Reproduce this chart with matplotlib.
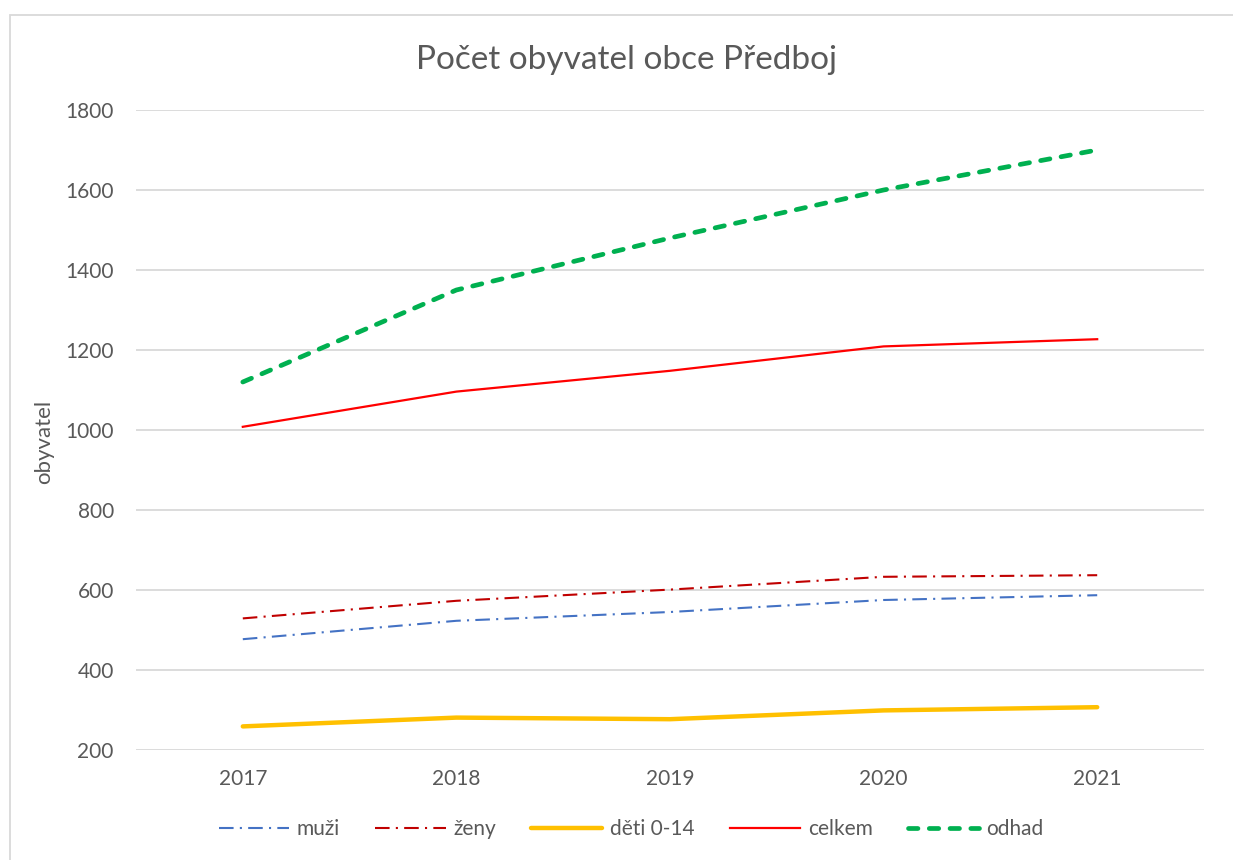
import matplotlib.pyplot as plt
from matplotlib.patches import Rectangle

roky = ["2017", "2018", "2019", "2020", "2021"]
muzi = [477, 523, 545, 575, 587]
zeny = [529, 573, 601, 633, 637]
deti = [259, 281, 277, 299, 307]
celkem = [1008, 1096, 1148, 1209, 1227]
odhad = [1120, 1350, 1480, 1600, 1700]

plt.rcParams['font.family'] = ['Lato', 'DejaVu Sans']
sedy = '#595959'

fig = plt.figure(figsize=(12.33, 8.6), dpi=100)
ax = fig.add_axes([136/1233, 1 - 750/860, (1204 - 136)/1233, 640/860])

x = range(len(roky))
ax.plot(x, muzi, color='#4472C4', lw=1.5, dashes=(7, 3, 1, 3), label='muži')
ax.plot(x, zeny, color='#C00000', lw=1.5, dashes=(7, 3, 1, 3), label='ženy')
ax.plot(x, deti, color='#FFC000', lw=3.2, solid_capstyle='round', label='děti 0-14')
ax.plot(x, celkem, color='#FF0000', lw=1.6, label='celkem')
ax.plot(x, odhad, color='#00B050', lw=3.4, dashes=(2.0, 2.4),
        dash_capstyle='round', label='odhad')

ax.set_xlim(-0.5, 4.5)
ax.set_ylim(200, 1800)
ax.set_yticks(range(200, 1801, 200))
ax.set_xticks(list(x))
ax.set_xticklabels(roky)
ax.grid(axis='y', color='#D9D9D9', lw=1.3)
ax.set_axisbelow(True)
for s in ax.spines.values():
    s.set_visible(False)
ax.tick_params(length=0, labelsize=15, labelcolor=sedy)
ax.tick_params(axis='y', pad=16)
ax.tick_params(axis='x', pad=14)

fig.text(627/1233, 1 - 60/860, 'Počet obyvatel obce Předboj', ha='center', va='center',
         fontsize=24, color=sedy)
fig.text(44/1233, 1 - 442/860, 'obyvatel', rotation=90, ha='center', va='center',
         fontsize=16, color=sedy)

leg = fig.legend(loc='center', bbox_to_anchor=(631/1233, 1 - 829/860), ncol=5,
                 frameon=False, fontsize=15, handlelength=3.4, handletextpad=0.35,
                 columnspacing=1.7)
for t in leg.get_texts():
    t.set_color(sedy)

fig.patches.append(Rectangle((10/1233, -0.01), 1.0, 1 - 15/860 + 0.01,
                             transform=fig.transFigure, fill=False,
                             edgecolor='#D9D9D9', lw=1.3))

fig.savefig('out.png', dpi=100)
